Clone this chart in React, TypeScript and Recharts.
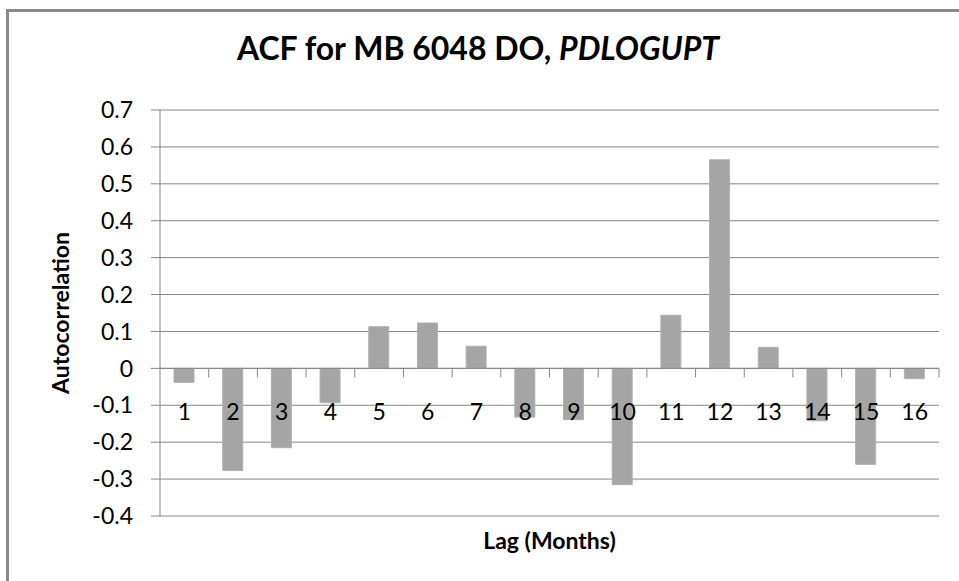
import { BarChart, Bar, XAxis, YAxis, CartesianGrid, ReferenceLine } from "recharts";

// ACF by lag
const lags = ["1", "2", "3", "4", "5", "6", "7", "8", "9", "10", "11", "12", "13", "14", "15", "16"];
const acf = [-0.038, -0.277, -0.215, -0.093, 0.113, 0.123, 0.06, -0.132, -0.139, -0.315, 0.144, 0.565, 0.057, -0.142, -0.26, -0.028];
const yTicks = [-0.4, -0.3, -0.2, -0.1, 0, 0.1, 0.2, 0.3, 0.4, 0.5, 0.6, 0.7];

const data = lags.map((lag, i) => ({ lag, acf: acf[i] }));

const W = 959;
const H = 581;
const TOP = 110;
const RIGHT = 20;
const Y_AXIS_W = 160;
const X_AXIS_H = 65;
const PLOT_H = H - TOP - X_AXIS_H;
const PLOT_W = W - RIGHT - Y_AXIS_W;
const BAND = PLOT_W / lags.length;
const Y_MIN = yTicks[0];
const Y_MAX = yTicks[yTicks.length - 1];
const ZERO_Y = TOP + (PLOT_H * Y_MAX) / (Y_MAX - Y_MIN);

const FONT = "Lato, 'Open Sans', sans-serif";
const AXIS = "#868686";

function LagTick(props: any) {
  const { x, payload } = props;
  return (
    <g>
      <line x1={x + BAND / 2} x2={x + BAND / 2} y1={ZERO_Y} y2={ZERO_Y + 9} stroke={AXIS} />
      <text
        x={x}
        y={ZERO_Y + 43}
        textAnchor="middle"
        dominantBaseline="central"
        fontFamily={FONT}
        fontSize={23}
        fill="#000"
      >
        {payload.value}
      </text>
    </g>
  );
}

function YTitle(props: any) {
  const { viewBox } = props;
  const cx = viewBox.x + 60;
  const cy = viewBox.y + viewBox.height / 2;
  return (
    <text
      x={cx}
      y={cy}
      transform={`rotate(-90, ${cx}, ${cy})`}
      textAnchor="middle"
      dominantBaseline="central"
      fontFamily={FONT}
      fontWeight="bold"
      fontSize={23}
      fill="#000"
    >
      Autocorrelation
    </text>
  );
}

function XTitle(props: any) {
  const { viewBox } = props;
  return (
    <text
      x={viewBox.x + viewBox.width / 2}
      y={viewBox.y + 24}
      textAnchor="middle"
      dominantBaseline="central"
      fontFamily={FONT}
      fontWeight="bold"
      fontSize={23}
      fill="#000"
    >
      Lag (Months)
    </text>
  );
}

export default function App() {
  return (
    <div
      style={{
        position: "fixed",
        left: 0,
        top: 0,
        width: W,
        height: H,
        overflow: "hidden",
        background: "#fff",
      }}
    >
      <div
        style={{
          position: "absolute",
          left: 6,
          top: 9,
          width: W,
          height: H,
          borderLeft: "3px solid #8a8a8a",
          borderTop: "3px solid #8a8a8a",
        }}
      />
      <div
        style={{
          position: "absolute",
          left: 0,
          top: 28,
          width: 956,
          textAlign: "center",
          fontFamily: FONT,
          fontWeight: "bold",
          fontSize: 32,
          lineHeight: "40px",
          color: "#000",
        }}
      >
        ACF for MB 6048 DO, <i>PDLOGUPT</i>
      </div>
      <div style={{ position: "absolute", left: 0, top: 0 }}>
        <BarChart
          width={W}
          height={H}
          data={data}
          margin={{ top: TOP, right: RIGHT, bottom: 0, left: 0 }}
        >
          <CartesianGrid vertical={false} stroke={AXIS} />
          <XAxis
            dataKey="lag"
            height={X_AXIS_H}
            axisLine={false}
            tickLine={false}
            tickSize={0}
            tickMargin={0}
            interval={0}
            tick={<LagTick />}
            label={<XTitle />}
          />
          <YAxis
            width={Y_AXIS_W}
            domain={[Y_MIN, Y_MAX]}
            ticks={yTicks}
            interval={0}
            axisLine={{ stroke: AXIS }}
            tickLine={{ stroke: AXIS }}
            tickSize={9}
            tickMargin={18}
            tickFormatter={(v: number) => String(Math.round(v * 10) / 10)}
            tick={{ fontFamily: FONT, fontSize: 23, fill: "#000" }}
            label={<YTitle />}
          />
          <ReferenceLine y={0} stroke={AXIS} />
          <Bar dataKey="acf" fill="#a5a5a5" stroke="#b0b0b0" barSize={20} isAnimationActive={false} />
        </BarChart>
      </div>
    </div>
  );
}
